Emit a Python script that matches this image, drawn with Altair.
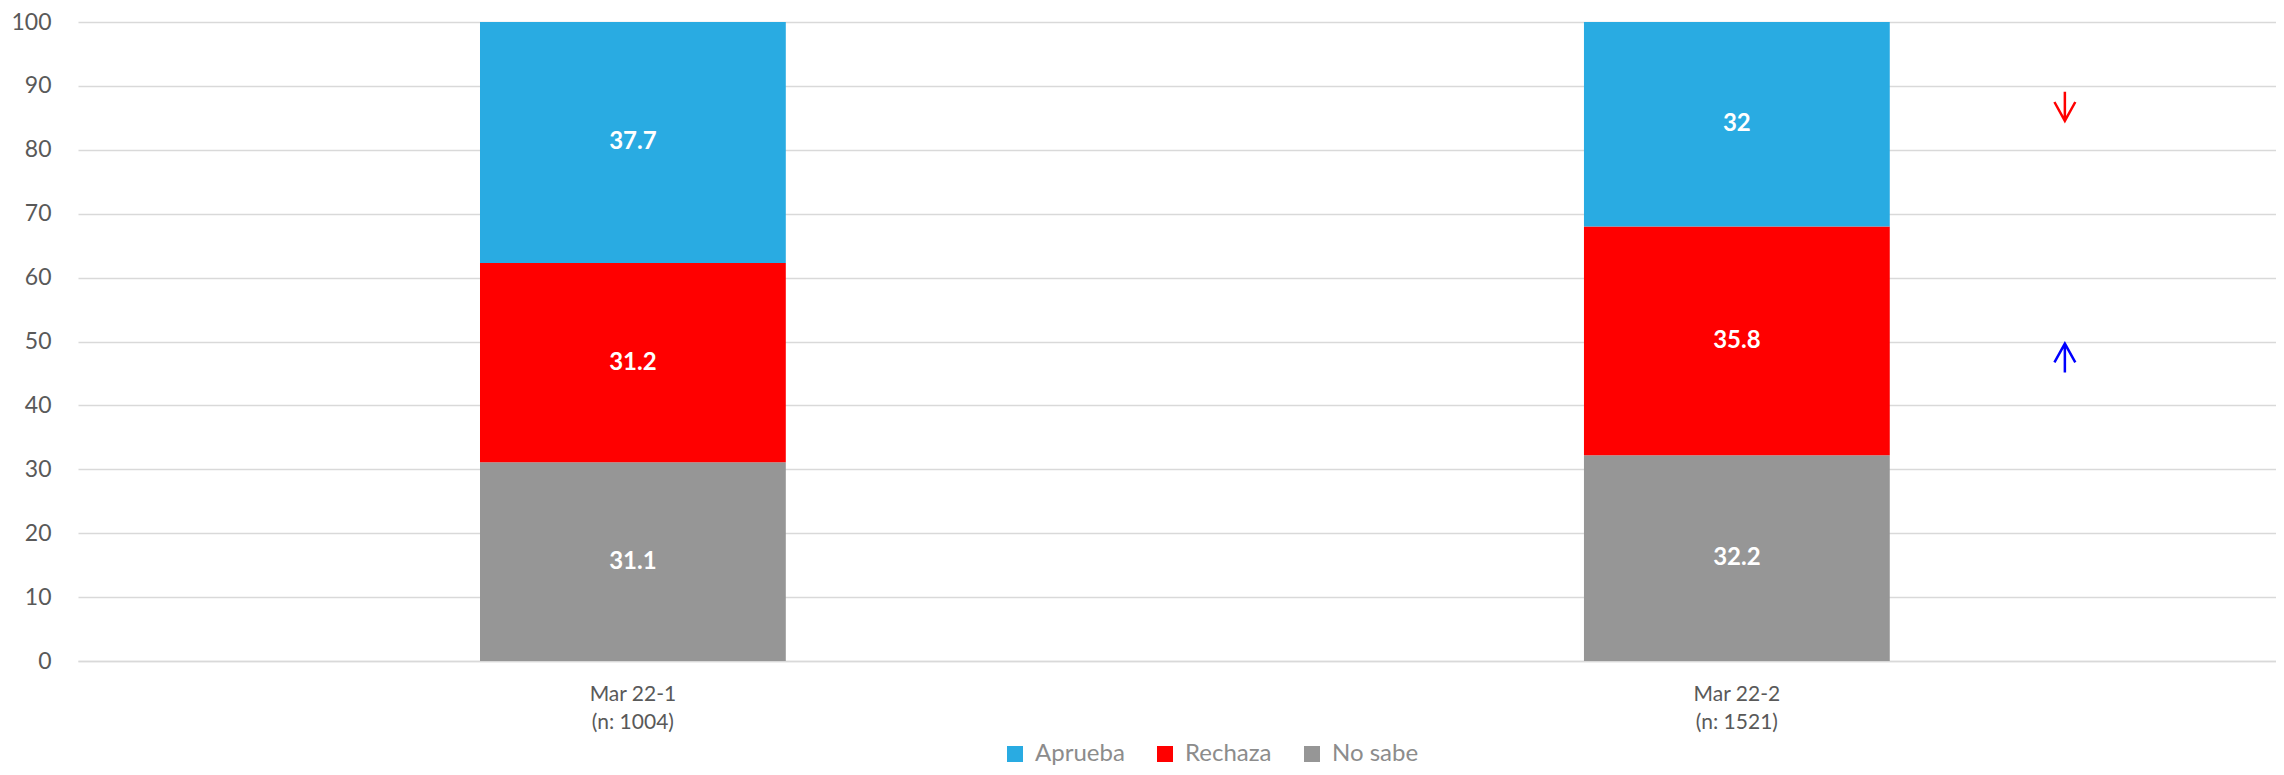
import altair as alt
import pandas as pd

periods = ["Mar 22-1", "Mar 22-2"]
sample_n = ["(n: 1004)", "(n: 1521)"]
series = ["Aprueba", "Rechaza", "No sabe"]
colors = ["#29ABE2", "#FF0000", "#969696"]
aprueba = [37.7, 32.0]
rechaza = [31.2, 35.8]
no_sabe = [31.1, 32.2]

arrow_period = ["Mar 22-2", "Mar 22-2"]
arrow_value = [86.8, 47.4]
arrow_dir = ["down", "up"]
arrow_color = ["#FF0000", "#0000FF"]

DOWN = "M0,-1L0,1M-0.72,-0.3L0,1L0.72,-0.3"
UP = "M0,1L0,-1M-0.72,0.3L0,-1L0.72,0.3"

labels = [f"{p}|{n}" for p, n in zip(periods, sample_n)]
rows = []
for i, lab in enumerate(labels):
    for s, vals, order in [("No sabe", no_sabe, 0), ("Rechaza", rechaza, 1), ("Aprueba", aprueba, 2)]:
        rows.append({"period": lab, "serie": s, "value": vals[i], "ord": order})
df = pd.DataFrame(rows)

arrows = pd.DataFrame({
    "period": [labels[periods.index(p)] for p in arrow_period],
    "value": arrow_value,
    "dir": arrow_dir,
    "col": arrow_color,
})

xscale = alt.Scale(domain=labels, paddingInner=0.723, paddingOuter=0.357, align=0.51)
yscale = alt.Scale(domain=[0, 100], nice=False)

xaxis = alt.Axis(title=None, labelExpr="split(datum.label, '|')", labelFontSize=21,
                 labelLineHeight=28, labelColor="#595959", labelFont="Lato",
                 ticks=False, domain=True, domainColor="#d9d9d9", domainWidth=1.5,
                 labelPadding=22, labelAngle=0)
yaxis = alt.Axis(title=None, values=list(range(0, 101, 10)), labelFontSize=23,
                 labelColor="#595959", labelFont="Lato", ticks=False, domain=False,
                 gridColor="#d9d9d9", gridWidth=1.5, labelPadding=27)

bars = alt.Chart(df).mark_bar().encode(
    x=alt.X("period:N", scale=xscale, axis=xaxis, sort=labels),
    y=alt.Y("value:Q", scale=yscale, axis=yaxis, stack="zero"),
    color=alt.Color("serie:N", scale=alt.Scale(domain=series, range=colors),
                    legend=alt.Legend(title=None, orient="none", direction="horizontal",
                                      legendX=925, legendY=720, symbolType="square",
                                      symbolSize=256, symbolStrokeWidth=0,
                                      labelFontSize=24, labelColor="#8c8c8c",
                                      labelFont="Lato", labelOffset=8, columnPadding=28)),
    order=alt.Order("ord:Q"),
)

text = alt.Chart(df).transform_stack(
    stack="value", groupby=["period"], as_=["v0", "v1"], sort=[alt.SortField("ord")]
).transform_calculate(
    mid="(datum.v0 + datum.v1) / 2"
).mark_text(color="white", fontWeight="bold", fontSize=24, font="Lato", baseline="middle").encode(
    x=alt.X("period:N", scale=xscale, sort=labels),
    y=alt.Y("mid:Q", scale=yscale),
    text=alt.Text("value:Q"),
)

arrow_marks = alt.Chart(arrows).mark_point(filled=False, strokeWidth=2.5, size=841, xOffset=328, opacity=1).encode(
    x=alt.X("period:N", scale=xscale, sort=labels),
    y=alt.Y("value:Q", scale=yscale),
    shape=alt.Shape("dir:N", scale=alt.Scale(domain=["down", "up"], range=[DOWN, UP]), legend=None),
    color=alt.Color("col:N", scale=None),
)

chart = alt.layer(bars, text, arrow_marks).resolve_scale(color="independent").properties(
    width=2198, height=639,
    autosize=alt.AutoSizeParams(type="none"),
    padding={"left": 70, "top": 14, "right": 0, "bottom": 106},
).configure_view(stroke=None)

chart.save("out.html", embed_options={"renderer": "svg", "actions": False})
